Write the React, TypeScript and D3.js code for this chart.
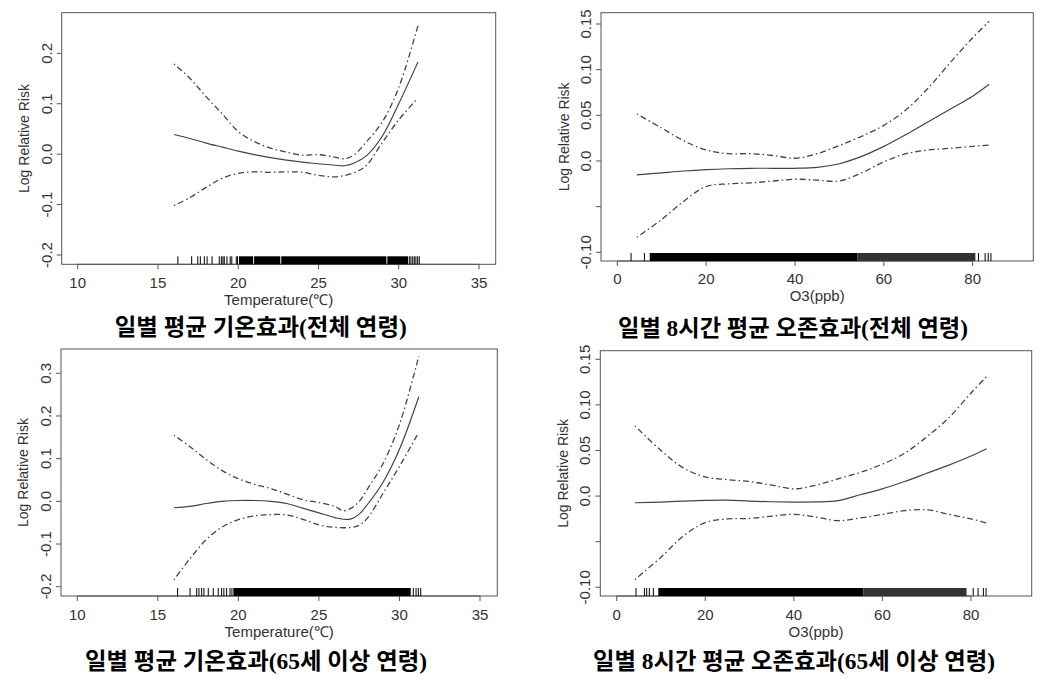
import React from "react";
import * as d3 from "d3";

// ---------- DATA ----------
const tempX1 = [16.0, 17, 18, 19, 20, 21, 22, 23, 24, 25, 26, 26.6, 27.2, 28, 29, 30, 31.2];
const tempFit1 = [0.039, 0.031, 0.022, 0.014, 0.006, -0.001, -0.007, -0.012, -0.016, -0.019, -0.022, -0.023, -0.018, -0.003, 0.037, 0.1, 0.183];
const tempUp1 = [0.179, 0.15, 0.114, 0.08, 0.045, 0.025, 0.012, 0.004, -0.002, -0.001, -0.006, -0.009, -0.002, 0.025, 0.065, 0.132, 0.255];
const tempLoX1 = [16.0, 17, 18, 19, 20, 21, 22, 23, 24, 25, 26, 26.8, 27.5, 28, 29, 30, 31.1];
const tempLo1 = [-0.102, -0.086, -0.066, -0.048, -0.038, -0.035, -0.036, -0.035, -0.036, -0.042, -0.045, -0.041, -0.033, -0.022, 0.024, 0.068, 0.108];

const o3X1 = [4.4, 10, 15, 20, 25, 30, 35, 40, 45, 50, 55, 60, 65, 70, 75, 80, 83.7];
const o3Fit1 = [-0.0153, -0.013, -0.011, -0.0095, -0.0085, -0.008, -0.008, -0.008, -0.007, -0.003, 0.005, 0.016, 0.029, 0.043, 0.057, 0.071, 0.084];
const o3Up1 = [0.0515, 0.036, 0.022, 0.012, 0.008, 0.008, 0.006, 0.003, 0.008, 0.017, 0.027, 0.039, 0.056, 0.08, 0.108, 0.135, 0.153];
const o3Lo1 = [-0.0836, -0.064, -0.044, -0.028, -0.025, -0.024, -0.022, -0.02, -0.021, -0.022, -0.013, -0.001, 0.008, 0.012, 0.014, 0.016, 0.0175];

const tempX2 = [16.0, 17, 18, 19, 20, 21, 22, 23, 24, 25, 26, 26.5, 27, 27.5, 28, 29, 30, 31.2];
const tempFit2 = [-0.015, -0.012, -0.005, 0.0, 0.002, 0.002, 0.0, -0.005, -0.016, -0.027, -0.038, -0.042, -0.041, -0.03, -0.008, 0.046, 0.122, 0.245];
const tempUp2 = [0.155, 0.128, 0.098, 0.072, 0.053, 0.04, 0.03, 0.017, 0.004, -0.003, -0.012, -0.022, -0.016, 0.0, 0.028, 0.09, 0.18, 0.34];
const tempLoX2 = [16.0, 17, 18, 19, 20, 21, 22, 23, 24, 25, 26, 27, 27.5, 28, 29, 30, 31.1];
const tempLo2 = [-0.184, -0.134, -0.09, -0.06, -0.043, -0.034, -0.031, -0.032, -0.042, -0.055, -0.061, -0.061, -0.056, -0.04, 0.02, 0.082, 0.155];

const o3X2 = [4.1, 10, 15, 20, 25, 30, 35, 40, 45, 50, 55, 60, 65, 70, 75, 80, 83.5];
const o3Fit2 = [-0.0073, -0.0065, -0.0055, -0.0047, -0.0044, -0.0055, -0.0062, -0.0065, -0.0064, -0.005, 0.0015, 0.008, 0.016, 0.025, 0.034, 0.044, 0.052];
const o3Up2 = [0.077, 0.05, 0.031, 0.021, 0.018, 0.016, 0.012, 0.008, 0.012, 0.019, 0.026, 0.035, 0.047, 0.065, 0.086, 0.113, 0.131];
const o3LoX2 = [4.1, 10, 15, 20, 25, 30, 35, 40, 45, 50, 55, 60, 65, 70, 75, 80, 83.9];
const o3Lo2 = [-0.0915, -0.067, -0.044, -0.029, -0.025, -0.0245, -0.022, -0.02, -0.023, -0.027, -0.024, -0.02, -0.016, -0.015, -0.02, -0.025, -0.03];

// rug: sparse single observations and dense ranges [from, to]
const tempRugTicks1 = [16.24, 17.1, 17.48, 17.64, 17.89, 18.06, 18.37, 18.82, 18.95, 19.05, 19.13, 19.3, 19.5, 19.6, 19.88, 19.96, 30.66, 30.76, 30.87, 30.97, 31.07, 31.18, 31.28];
const tempRugBands1 = [[20.05, 20.93], [20.99, 22.62], [22.68, 29.23], [29.29, 30.58]];
const o3RugTicks1 = [3.1, 6.1, 81.3, 82.8, 83.5, 84.1];
const o3RugBands1 = [[7.3, 54.0]];
const o3RugLight1 = [[54.0, 80.6]];
const tempRugTicks2 = [16.23, 17.0, 17.41, 17.55, 17.72, 17.86, 18.13, 18.44, 18.75, 18.96, 19.1, 19.27, 19.48, 19.6, 30.86, 31.03, 31.17, 31.32];
const tempRugBands2 = [[19.69, 30.7]];
const o3RugTicks2 = [4.36, 6.25, 6.77, 7.37, 8.28, 80.5, 81.6, 82.8, 83.4];
const o3RugBands2 = [[9.4, 55.7]];
const o3RugLight2 = [[55.7, 79.0]];

const tempTicks = [10, 15, 20, 25, 30, 35];
const o3Ticks = [0, 20, 40, 60, 80];
const tempYTicks1 = [-0.2, -0.1, 0.0, 0.1, 0.2];
const tempYTicks2 = [-0.2, -0.1, 0.0, 0.1, 0.2, 0.3];
const o3YTicks = [-0.1, -0.05, 0.0, 0.05, 0.1, 0.15];
const o3YLabels = ["-0.10", "", "0.0", "0.05", "0.10", "0.15"];
const tempYLabels1 = ["-0.2", "-0.1", "0.0", "0.1", "0.2"];
const tempYLabels2 = ["-0.2", "-0.1", "0.0", "0.1", "0.2", "0.3"];

const captions = [
  "일별 평균 기온효과(전체 연령)",
  "일별 8시간 평균 오존효과(전체 연령)",
  "일별 평균 기온효과(65세 이상 연령)",
  "일별 8시간 평균 오존효과(65세 이상 연령)",
];

// ---------- LAYOUT ----------
type Panel = {
  box: [number, number, number, number];
  xDom: [number, number]; xRng: [number, number];
  yDom: [number, number]; yRng: [number, number];
  xTicks: number[]; yTicks: number[]; yLabels: string[];
  xTitle: string;
  fitX: number[]; fit: number[]; upX: number[]; up: number[]; loX: number[]; lo: number[];
  rugTicks: number[]; rugBands: number[][]; rugLight: number[][];
  yLabX: number; yTitleX: number; xLabY: number; xTitleY: number;
  cap: string; capX: number; capY: number; capW: number;
};

const panels: Panel[] = [
  {
    box: [61.7, 12.7, 495.7, 264.3], xDom: [10, 35], xRng: [77.7, 479], yDom: [-0.2, 0.2], yRng: [255, 53.3],
    xTicks: tempTicks, yTicks: tempYTicks1, yLabels: tempYLabels1, xTitle: "Temperature(℃)",
    fitX: tempX1, fit: tempFit1, upX: tempX1, up: tempUp1, loX: tempLoX1, lo: tempLo1,
    rugTicks: tempRugTicks1, rugBands: tempRugBands1, rugLight: [],
    yLabX: 51.5, yTitleX: 29, xLabY: 287.5, xTitleY: 305, cap: captions[0], capX: 260.8, capY: 327, capW: 292,
  },
  {
    box: [601, 12.7, 1033.3, 261], xDom: [0, 80], xRng: [617.3, 972.7], yDom: [-0.1, 0.15], yRng: [252.3, 24],
    xTicks: o3Ticks, yTicks: o3YTicks, yLabels: o3YLabels, xTitle: "O3(ppb)",
    fitX: o3X1, fit: o3Fit1, upX: o3X1, up: o3Up1, loX: o3X1, lo: o3Lo1,
    rugTicks: o3RugTicks1, rugBands: o3RugBands1, rugLight: o3RugLight1,
    yLabX: 591, yTitleX: 569, xLabY: 283.5, xTitleY: 300.5, cap: captions[1], capX: 793, capY: 328, capW: 350,
  },
  {
    box: [61, 349, 497.3, 596], xDom: [10, 35], xRng: [77.3, 480], yDom: [-0.2, 0.3], yRng: [586.7, 373.3],
    xTicks: tempTicks, yTicks: tempYTicks2, yLabels: tempYLabels2, xTitle: "Temperature(℃)",
    fitX: tempX2, fit: tempFit2, upX: tempX2, up: tempUp2, loX: tempLoX2, lo: tempLo2,
    rugTicks: tempRugTicks2, rugBands: tempRugBands2, rugLight: [],
    yLabX: 50.5, yTitleX: 28, xLabY: 619.5, xTitleY: 637, cap: captions[2], capX: 256, capY: 661.5, capW: 342,
  },
  {
    box: [600.3, 350.7, 1031.7, 596], xDom: [0, 80], xRng: [616.7, 971], yDom: [-0.1, 0.15], yRng: [587.3, 359.3],
    xTicks: o3Ticks, yTicks: o3YTicks, yLabels: o3YLabels, xTitle: "O3(ppb)",
    fitX: o3X2, fit: o3Fit2, upX: o3X2, up: o3Up2, loX: o3LoX2, lo: o3Lo2,
    rugTicks: o3RugTicks2, rugBands: o3RugBands2, rugLight: o3RugLight2,
    yLabX: 590, yTitleX: 568, xLabY: 619.5, xTitleY: 637, cap: captions[3], capX: 794, capY: 661, capW: 402,
  },
];

const AXIS = "#555";
const TXT = "#333";
const SANS = "Liberation Sans, Arial, sans-serif";

function PanelView({ p }: { p: Panel }) {
  const x = d3.scaleLinear().domain(p.xDom).range(p.xRng);
  const y = d3.scaleLinear().domain(p.yDom).range(p.yRng);
  const line = d3.line<[number, number]>().x((d) => x(d[0])).y((d) => y(d[1])).curve(d3.curveCatmullRom.alpha(0.5));
  const zip = (a: number[], b: number[]) => a.map((v, i) => [v, b[i]] as [number, number]);
  const [bx0, by0, bx1, by1] = p.box;
  const rugH = 8;
  return (
    <g>
      <rect x={bx0} y={by0} width={bx1 - bx0} height={by1 - by0} fill="none" stroke={AXIS} strokeWidth={1} />
      {/* x axis */}
      <line x1={x(p.xTicks[0])} x2={x(p.xTicks[p.xTicks.length - 1])} y1={by1} y2={by1} stroke={AXIS} />
      {p.xTicks.map((t) => (
        <g key={"xt" + t}>
          <line x1={x(t)} x2={x(t)} y1={by1} y2={by1 + 5} stroke={AXIS} />
          <text x={x(t)} y={p.xLabY} textAnchor="middle" fontFamily={SANS} fontSize={15} fill={TXT}>{t}</text>
        </g>
      ))}
      {/* y axis */}
      {p.yTicks.map((t, i) => (
        <g key={"yt" + i}>
          <line x1={bx0 - 5} x2={bx0} y1={y(t)} y2={y(t)} stroke={AXIS} />
          {p.yLabels[i] && (
            <text transform={`translate(${p.yLabX},${y(t)}) rotate(-90)`} textAnchor="middle" fontFamily={SANS} fontSize={15} fill={TXT}>
              {p.yLabels[i]}
            </text>
          )}
        </g>
      ))}
      <text transform={`translate(${p.yTitleX},${(by0 + by1) / 2}) rotate(-90)`} textAnchor="middle" fontFamily={SANS} fontSize={14} fill={TXT}>
        Log Relative Risk
      </text>
      <text x={(bx0 + bx1) / 2} y={p.xTitleY} textAnchor="middle" fontFamily={SANS} fontSize={15} fill={TXT}>{p.xTitle}</text>
      {/* rug */}
      {p.rugBands.map((b, i) => (
        <rect key={"rb" + i} x={x(b[0])} y={by1 - rugH} width={x(b[1]) - x(b[0])} height={rugH} fill="#000" />
      ))}
      {p.rugLight.map((b, i) => (
        <rect key={"rl" + i} x={x(b[0])} y={by1 - rugH} width={x(b[1]) - x(b[0])} height={rugH} fill="#333" />
      ))}
      {p.rugTicks.map((t, i) => (
        <line key={"rt" + i} x1={x(t)} x2={x(t)} y1={by1 - rugH} y2={by1} stroke="#000" strokeWidth={1} />
      ))}
      {/* curves */}
      <path d={line(zip(p.upX, p.up)) || ""} fill="none" stroke="#444" strokeWidth={1.3} strokeDasharray="1.5,3,6,3" />
      <path d={line(zip(p.loX, p.lo)) || ""} fill="none" stroke="#444" strokeWidth={1.3} strokeDasharray="1.5,3,6,3" />
      <path d={line(zip(p.fitX, p.fit)) || ""} fill="none" stroke="#444" strokeWidth={1.2} />
      {/* caption */}
      <text x={p.capX} y={p.capY} dominantBaseline="central" textAnchor="middle" fontFamily="'Liberation Serif', 'Noto Sans CJK KR', serif"
        fontSize={23} fontWeight={700} fill="#000" textLength={p.capW} lengthAdjust="spacingAndGlyphs">
        {p.cap}
      </text>
    </g>
  );
}

export default function App() {
  return (
    <svg width={1055} height={690} style={{ position: "absolute", left: 0, top: 0, background: "#fff" }}>
      <rect width={1055} height={690} fill="#fff" />
      {panels.map((p, i) => <PanelView key={i} p={p} />)}
    </svg>
  );
}
